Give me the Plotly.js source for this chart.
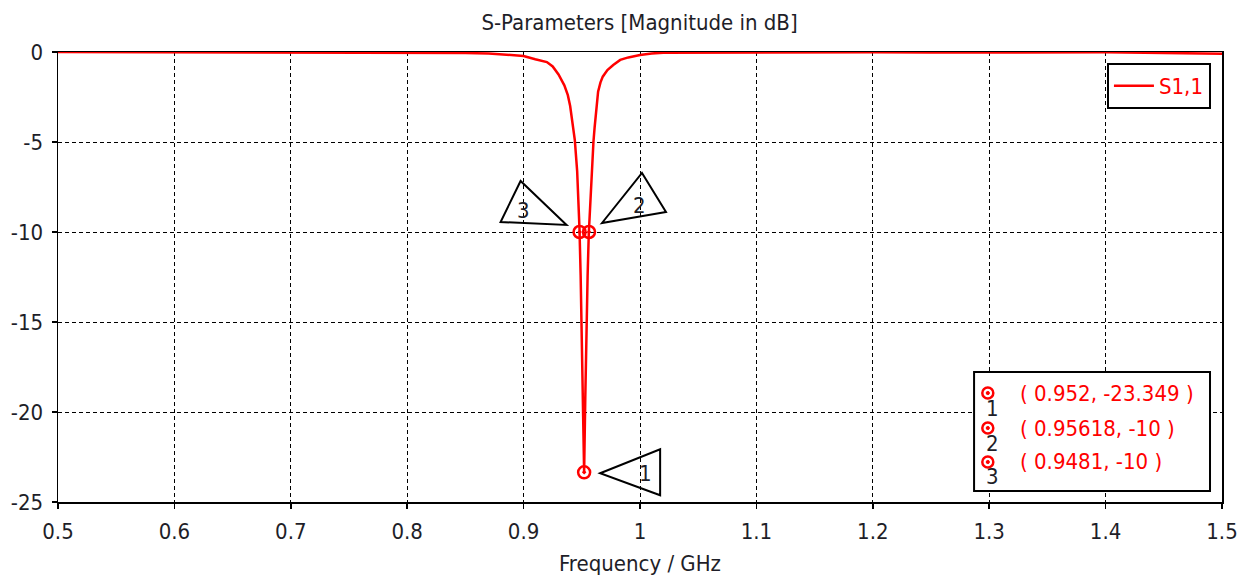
<!DOCTYPE html>
<html>
<head>
<meta charset="utf-8">
<script src="https://cdn.plot.ly/plotly-3.0.1.min.js"></script>
<style>html,body{margin:0;padding:0;background:#fff;}#chart{width:1254px;height:580px;}</style>
</head>
<body>
<div id="chart"></div>
<script>
// ---- data ----
const freqGHz = [0.50,0.55,0.60,0.65,0.70,0.74,0.78,0.80,0.83,0.85,0.87,0.88,0.89,0.90,0.91,0.92,0.925,0.93,0.935,0.938,0.940,0.942,0.944,0.946,0.947,0.948,0.949,0.950,0.951,0.952,0.953,0.954,0.955,0.956,0.957,0.958,0.960,0.961,0.963,0.964,0.966,0.968,0.972,0.977,0.983,0.99,1.00,1.01,1.02,1.05,1.10,1.15,1.20,1.25,1.30,1.35,1.40,1.45,1.48,1.50];
const s11dB = [0,-0.01,-0.01,-0.02,-0.02,-0.04,-0.05,-0.05,-0.03,-0.06,-0.08,-0.12,-0.17,-0.22,-0.40,-0.56,-0.8,-1.25,-1.85,-2.4,-3.0,-3.9,-4.9,-6.6,-8.1,-9.8,-12.4,-15.6,-19.4,-23.349,-19.2,-15.3,-12.4,-10.1,-8.6,-7.2,-5.0,-4.2,-3.0,-2.2,-1.7,-1.37,-1.0,-0.72,-0.44,-0.3,-0.17,-0.08,-0.04,-0.03,-0.02,-0.03,-0.02,-0.03,-0.02,-0.04,-0.02,-0.05,-0.08,-0.1];
const markerIds = ['1','2','3'];
const markerFreq = [0.952, 0.95618, 0.9481];
const markerVal = [-23.349, -10, -10];
const seriesName = 'S1,1';
const titleText = 'S-Parameters [Magnitude in dB]';
const xTitle = 'Frequency / GHz';
const xTickVals = [0.5,0.6,0.7,0.8,0.9,1.0,1.1,1.2,1.3,1.4,1.5];
const xTickText = ['0.5','0.6','0.7','0.8','0.9','1','1.1','1.2','1.3','1.4','1.5'];
const yTickVals = [0,-5,-10,-15,-20,-25];
const yTickText = ['0','-5','-10','-15','-20','-25'];

// ---- styling ----
const FONT = 'Tahoma, "DejaVu Sans Condensed", "DejaVu Sans", sans-serif';
const RED = '#ff0000';
const TXT = '#1e1e28';
const FS = 22;

// triangle label geometry (pixel offsets relative to marker, y up)
const triPaths = [
  'M 16 -1 L 76 23 L 76 -23 Z',
  'M 13 9 L 53 59 L 77 20 Z',
  'M -13 7 L -59 51 L -79 10 Z'
];
const triText = [[61,-1],[51,27],[-56,22]];

const shapes = [];
const annotations = [];
markerIds.forEach((id,i)=>{
  shapes.push({type:'path', xref:'x', yref:'y', xsizemode:'pixel', ysizemode:'pixel',
    xanchor: markerFreq[i], yanchor: markerVal[i], path: triPaths[i],
    line:{color:'#000', width:2}, fillcolor:'rgba(0,0,0,0)', layer:'above'});
  annotations.push({x:markerFreq[i], y:markerVal[i], xref:'x', yref:'y', text:id, showarrow:false,
    xanchor:'center', yanchor:'middle',
    xshift:triText[i][0], yshift:triText[i][1], font:{family:FONT,size:FS,color:TXT}});
});

// marker table box (paper coords)
const box = {x0:0.787, x1:0.9897, y0:0.0244, y1:0.2889};
shapes.push({type:'rect', xref:'paper', yref:'paper', x0:box.x0, x1:box.x1, y0:box.y0, y1:box.y1,
  line:{color:'#000', width:2}, fillcolor:'#fff', layer:'above'});
const rowY = [0.2422, 0.1644, 0.0889];
const iconX = 0.7988;
markerIds.forEach((id,i)=>{
  shapes.push({type:'circle', xref:'paper', yref:'paper', xsizemode:'pixel', ysizemode:'pixel',
    xanchor:iconX, yanchor:rowY[i], x0:-5.5, x1:5.5, y0:-5.5, y1:5.5, line:{color:RED,width:2.5}, layer:'above'});
  shapes.push({type:'circle', xref:'paper', yref:'paper', xsizemode:'pixel', ysizemode:'pixel',
    xanchor:iconX, yanchor:rowY[i], x0:-1.6, x1:1.6, y0:-1.6, y1:1.6, line:{color:RED,width:1}, fillcolor:RED, layer:'above'});
  annotations.push({xref:'paper', yref:'paper', x:iconX, y:rowY[i], text:id, showarrow:false,
    xanchor:'center', yanchor:'middle', xshift:5, yshift:-15, font:{family:FONT,size:FS,color:TXT}});
  annotations.push({xref:'paper', yref:'paper', x:0.8245, y:rowY[i], xanchor:'left', yanchor:'middle',
    text:'( '+markerFreq[i]+', '+markerVal[i]+' )',
    showarrow:false, font:{family:FONT,size:FS,color:RED}});
});

const traces = [
  {x:freqGHz, y:s11dB, type:'scatter', mode:'lines', name:seriesName, line:{color:RED, width:2.5}},
  {x:markerFreq, y:markerVal, type:'scatter', mode:'markers', showlegend:false,
   marker:{symbol:'circle-open-dot', size:12, color:RED, line:{color:RED, width:2.5}}}
];

const axisCommon = {
  showline:true, linecolor:'#000', linewidth:1.5, mirror:true,
  showgrid:true, gridcolor:'#000', gridwidth:1, griddash:'4px,3px',
  ticks:'outside', ticklen:5, tickcolor:'#000', tickwidth:1.5,
  zeroline:false, tickfont:{family:FONT, size:FS, color:TXT}
};

const layout = {
  width:1254, height:580,
  margin:{l:58, r:32, t:52, b:78},
  paper_bgcolor:'#fff', plot_bgcolor:'#fff',
  title:{text:titleText, font:{family:FONT, size:FS, color:TXT}, x:0.51, xanchor:'center', y:0.962, yanchor:'middle'},
  xaxis:Object.assign({}, axisCommon, {range:[0.5,1.5], tickmode:'array', tickvals:xTickVals, ticktext:xTickText,
    ticklabelstandoff:4,
    title:{text:xTitle, font:{family:FONT, size:FS, color:TXT}, standoff:12}}),
  yaxis:Object.assign({}, axisCommon, {range:[-25,0], tickmode:'array', tickvals:yTickVals, ticktext:yTickText,
    ticklabelstandoff:4}),
  showlegend:true,
  legend:{x:0.9905, y:0.9756, xanchor:'right', yanchor:'top', bgcolor:'#fff', bordercolor:'#000', borderwidth:2,
    font:{family:FONT, size:FS, color:RED}, itemwidth:40, entrywidth:84, entrywidthmode:'pixels'},
  shapes:shapes, annotations:annotations
};

Plotly.newPlot('chart', traces, layout, {displayModeBar:false, staticPlot:true});
</script>
</body>
</html>
